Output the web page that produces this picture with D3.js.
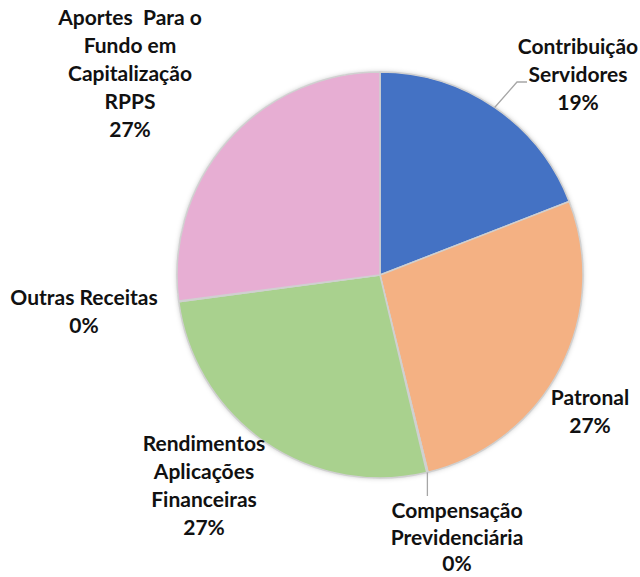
<!DOCTYPE html>
<html>
<head>
<meta charset="utf-8">
<script src="https://cdn.jsdelivr.net/npm/d3@7"></script>
<style>
  body { margin: 0; background: #fff; }
  text { font-family: Lato, "Open Sans", sans-serif; font-weight: bold; fill: #111; }
</style>
</head>
<body>
<div id="chart"></div>
<script>
(function() {

const width = 640,
height = 577;

// data
const categories = ["Contribuição Servidores", "Patronal", "Compensação Previdenciária", "Rendimentos Aplicações Financeiras", "Outras Receitas", "Aportes  Para o Fundo em Capitalização RPPS"];
const values = [19.1, 27.1, 0.1, 26.6, 0.05, 27.05];
const colors = ["#4472C4", "#F4B183", "#C9C9C9", "#A9D18E", "#C9C9C9", "#E7AED3"];

// label lines (how the label wraps) and where it sits
const labelLines = [
  ["Contribuição", "Servidores"],
  ["Patronal"],
  ["Compensação", "Previdenciária"],
  ["Rendimentos", "Aplicações", "Financeiras"],
  ["Outras Receitas"],
  ["Aportes  Para o", "Fundo em", "Capitalização", "RPPS"]
];
const labelPos = [[578, 47], [590, 398], [457, 511], [204, 444], [84, 298], [130, 18]];
const labelStep = [28, 28, 26.5, 28, 28, 28];

const cx = 380, cy = 275, r = 203;

const svg = d3.select("#chart")
  .append("svg")
  .attr("width", width)
  .attr("height", height);

const defs = svg.append("defs");
defs.append("filter")
  .attr("id", "shadow")
  .attr("x", "-20%").attr("y", "-20%").attr("width", "140%").attr("height", "140%")
  .append("feDropShadow")
  .attr("dx", 0).attr("dy", 0)
  .attr("stdDeviation", 2.5)
  .attr("flood-color", "#000")
  .attr("flood-opacity", 0.25);

const pie = d3.pie().sort(null).value(d => d);
const arcs = pie(values);
const arc = d3.arc().innerRadius(0).outerRadius(r);

const g = svg.append("g").attr("transform", `translate(${cx},${cy})`);

g.append("circle").attr("r", r).attr("fill", "#fff").attr("filter", "url(#shadow)");

g.selectAll("path")
  .data(arcs)
  .join("path")
  .attr("d", arc)
  .attr("fill", (d, i) => colors[i])
  .attr("stroke", "#d0d0d0")
  .attr("stroke-width", 1.5)
  .attr("stroke-linejoin", "round");

// leader lines
const edge = (a) => [Math.sin(a) * r, -Math.cos(a) * r];
const mid = d => (d.startAngle + d.endAngle) / 2;

const p0 = edge(mid(arcs[0]));
g.append("polyline")
  .attr("points", [p0, [517 - cx, 82 - cy], [527 - cx, 82 - cy]].map(p => p.join(",")).join(" "))
  .attr("fill", "none").attr("stroke", "#a6a6a6").attr("stroke-width", 1.3);

const p2 = edge(mid(arcs[2]));
g.append("line")
  .attr("x1", p2[0]).attr("y1", p2[1])
  .attr("x2", p2[0]).attr("y2", 496 - cy)
  .attr("stroke", "#a6a6a6").attr("stroke-width", 1.3);

// labels
const fmt = d3.format(".0%");
const total = d3.sum(values);

const labels = svg.append("g").selectAll("text")
  .data(categories)
  .join("text")
  .attr("text-anchor", "middle")
  .attr("font-size", 21)
  .attr("x", (d, i) => labelPos[i][0])
  .attr("y", (d, i) => labelPos[i][1]);

labels.each(function(d, i) {
  const t = d3.select(this);
  const lines = labelLines[i].concat([fmt(values[i] / total)]);
  lines.forEach((ln, k) => {
    t.append("tspan")
      .attr("x", labelPos[i][0])
      .attr("y", labelPos[i][1] + k * labelStep[i])
      .attr("dy", "0.35em")
      .style("white-space", "pre")
      .text(ln);
  });
});

})();
</script>
</body>
</html>
